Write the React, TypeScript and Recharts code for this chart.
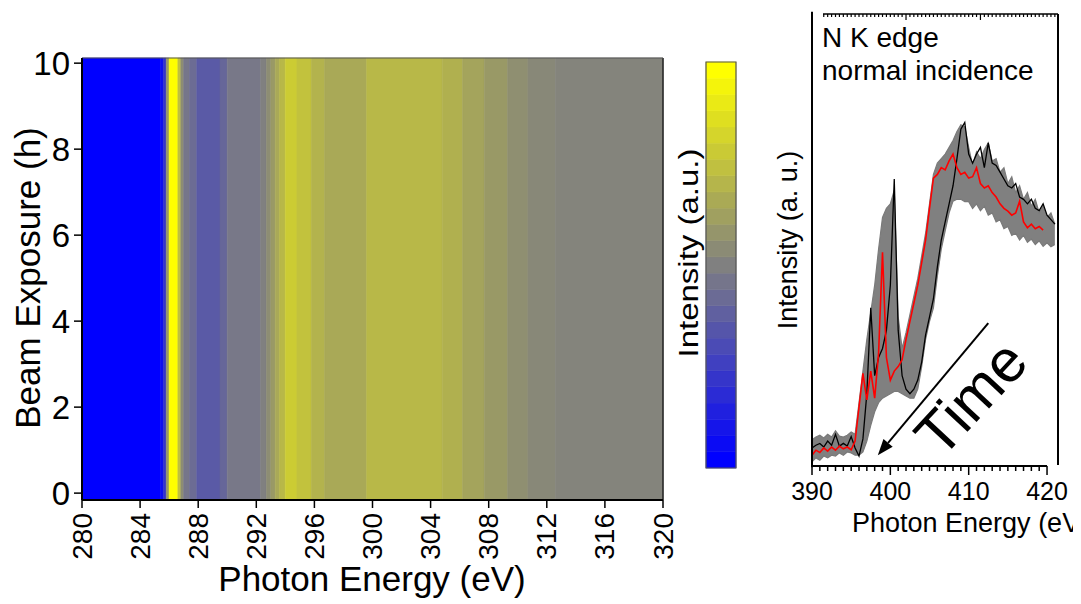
import React from 'react';
import { ComposedChart, XAxis, YAxis, ReferenceArea, ReferenceLine, Area, Line } from 'recharts';

const FONT = '"Liberation Sans", Arial, Helvetica, sans-serif';

// ---- heat map (C K edge), intensity is nearly constant along exposure time ----
const heatEdges = [
  280, 285.4, 285.6, 285.8, 286.0, 286.6, 286.8, 287.0, 287.4, 287.9,
  289.5, 290.0, 292.3, 292.7, 293.0, 293.3, 293.6, 294.0, 294.8, 295.8,
  296.7, 299.6, 304.8, 306.2, 307.7, 309.3, 310.7, 312.6, 320,
];
const heatLevels = [
  0, 0.05, 0.2, 0.6, 1.0, 0.75, 0.55, 0.46, 0.42, 0.35,
  0.4, 0.47, 0.5, 0.55, 0.6, 0.66, 0.72, 0.8, 0.76, 0.7,
  0.66, 0.72, 0.69, 0.64, 0.6, 0.56, 0.53, 0.515,
];
const heatXTicks = [280, 284, 288, 292, 296, 300, 304, 308, 312, 316, 320];
const heatYTicks = [0, 2, 4, 6, 8, 10];

// colour bar steps, bottom to top
const cbLevels = [
  0, 0.042, 0.083, 0.125, 0.167, 0.208, 0.25, 0.292, 0.333, 0.375, 0.417, 0.458, 0.5,
  0.542, 0.583, 0.625, 0.667, 0.708, 0.75, 0.792, 0.833, 0.875, 0.917, 0.958, 1,
];

// ---- N K edge spectra ----
const energies = [
  390, 390.5, 391, 391.5, 392, 392.5, 393, 393.5, 394, 394.5,
  395, 395.5, 396, 396.5, 397, 397.5, 398, 398.5, 399, 399.5,
  400, 400.5, 401, 401.5, 402, 402.5, 403, 403.5, 404, 404.5,
  405, 405.5, 406, 406.5, 407, 407.5, 408, 408.5, 409, 409.5,
  410, 410.5, 411, 411.5, 412, 412.5, 413, 413.5, 414, 414.5,
  415, 415.5, 416, 416.5, 417, 417.5, 418, 418.5, 419, 419.5,
  420, 420.5, 421,
];
const firstScan = [
  4.0, 4.6, 5.0, 4.2, 5.5, 4.6, 7.0, 4.4, 5.0, 4.4,
  6.5, 4.0, 2.2, 6.0, 16, 35, 20, 24, 26, 30,
  40, 63.5, 30, 20, 17, 16, 17, 19, 23, 29,
  33, 37, 44, 50, 54, 58, 62, 68, 74.5, 76,
  69, 67, 69, 70.5, 66, 71.5, 67, 66.5, 65, 63.5,
  62, 61.5, 62.5, 59.5, 59, 58, 59, 57, 56.5, 58,
  55.5, 54.5, 53.5,
];
const lastScan = [
  2.4, 3.5, 3.0, 4.0, 3.3, 4.2, 3.5, 4.4, 3.8, 4.2,
  3.6, 5.5, 13, 20.5, 14.6, 21, 15, 25, 47.3, 24,
  19, 21, 22, 23.5, 28, 32, 36, 40, 45, 50,
  57, 63.7, 64.5, 66, 65.5, 67.5, 69, 66, 64.5, 65,
  63.7, 64, 66, 62.5, 61.5, 62, 60.5, 59.5, 58, 57,
  56.4, 55.5, 56, 58.6, 54, 52.7, 53.5, 52.5, 53, 52.2,
  null, null, null,
];
const bandLow = [
  0.9, 1.8, 1.3, 2.2, 1.8, 2.4, 2.2, 2.9, 2.4, 3.1,
  2.9, 2.4, 2.4, 3.1, 5.5, 9, 12, 14, 15, 15.5,
  16, 16.5, 16.5, 16, 15.5, 15, 15, 17, 22, 28,
  32, 35, 42, 48, 52, 56, 58.6, 59, 59, 58.5,
  58.5, 57, 58, 56.5, 57.5, 55.5, 56, 54, 54.5, 52.5,
  53, 51, 51.5, 50, 51, 49.5, 50.2, 49, 49.8, 48.6,
  49.4, 48.5, 49,
];
const bandHigh = [
  5.8, 6.4, 6.8, 6.2, 7.0, 6.4, 7.8, 6.6, 6.4, 6.8,
  7.5, 7.0, 14, 21, 28, 34, 40, 48, 55, 57,
  58, 61, 33, 26, 29.5, 33.5, 37.5, 41.5, 46.5, 51.5,
  58, 64.5, 67, 68, 69, 70.5, 72, 74, 75.5, 75,
  70.5, 66.5, 69.5, 68, 70, 71.5, 67.5, 68, 65, 66,
  62.5, 64, 60.5, 62, 59, 60.5, 57.5, 59, 56, 57.5,
  55, 56, 53.5,
];
const specTicks = [
  390, 391, 392, 393, 394, 395, 396, 397, 398, 399, 400,
  401, 402, 403, 404, 405, 406, 407, 408, 409, 410,
  411, 412, 413, 414, 415, 416, 417, 418, 419, 420,
];
const specLabels = [390, 400, 410, 420];
const topTicks = Array.from({ length: 60 }, (_, i) => 391.5 + i * 0.5);
const topMajor = [402, 411.5];

// blue -> grey -> yellow
function colorOf(v: number) {
  let r: number, b: number;
  if (v <= 0.5) {
    const t = v / 0.5;
    r = 128 * t;
    b = 255 - 127 * t;
  } else {
    const t = (v - 0.5) / 0.5;
    r = 128 + 127 * t;
    b = 128 * (1 - t);
  }
  return `rgb(${Math.round(r)},${Math.round(r)},${Math.round(b)})`;
}

const heatSegments = heatLevels.map((lv, i) => ({
  x0: heatEdges[i],
  x1: heatEdges[i + 1],
  color: colorOf(lv),
}));

const cbRows = cbLevels.map((v, i) => ({ x: 0.5, y: i, color: colorOf(v) }));

const specRows = energies.map((e, i) => ({
  e,
  first: firstScan[i],
  last: lastScan[i],
  band: [bandLow[i], bandHigh[i]],
}));

function HeatXTick({ x, y, payload }: any) {
  const ty = y + 13;
  return (
    <g>
      <line x1={x} y1={y} x2={x} y2={y + 8} stroke="#000" strokeWidth={1.5} />
      <text
        x={x}
        y={ty}
        transform={`rotate(-90, ${x}, ${ty})`}
        textAnchor="end"
        dominantBaseline="central"
        fontSize={28}
        fontFamily={FONT}
        fill="#000"
      >
        {payload.value}
      </text>
    </g>
  );
}

function SpecBottomTick({ x, y, payload }: any) {
  const major = specLabels.includes(payload.value);
  return (
    <g>
      <line x1={x} y1={y} x2={x} y2={y + (major ? 9 : 5)} stroke="#000" strokeWidth={1.5} />
      {major && (
        <text x={x} y={y + 34} textAnchor="middle" fontSize={25} fontFamily={FONT} fill="#000">
          {payload.value}
        </text>
      )}
    </g>
  );
}

function SpecTopTick({ x, y, payload }: any) {
  const major = topMajor.includes(payload.value);
  return <line x1={x} y1={y} x2={x} y2={y + (major ? 6 : 3)} stroke="#000" strokeWidth={1.2} />;
}

function ArrowShape(p: any) {
  const { x1, y1, x2, y2 } = p;
  const a = Math.atan2(y2 - y1, x2 - x1);
  const len = 16;
  const w = 6;
  const bx = x2 - len * Math.cos(a);
  const by = y2 - len * Math.sin(a);
  const pts = [
    `${x2},${y2}`,
    `${bx + w * Math.sin(a)},${by - w * Math.cos(a)}`,
    `${bx - w * Math.sin(a)},${by + w * Math.cos(a)}`,
  ].join(' ');
  return (
    <g>
      <line x1={x1} y1={y1} x2={bx} y2={by} stroke="#000" strokeWidth={2} />
      <polygon points={pts} fill="#000" />
    </g>
  );
}

export default function App() {
  return (
    <div style={{ position: 'relative', width: 1073, height: 596, overflow: 'hidden', background: '#fff' }}>
      {/* heat map */}
      <div style={{ position: 'absolute', left: 0, top: 0 }}>
        <ComposedChart width={700} height={596} data={heatSegments} margin={{ top: 50, right: 45, bottom: 0, left: 0 }}>
          <XAxis
            type="number"
            dataKey="x0"
            domain={[280, 320]}
            allowDataOverflow
            ticks={heatXTicks}
            interval={0}
            height={104}
            tickSize={0}
            tickMargin={0}
            tickLine={false}
            axisLine={{ stroke: '#000', strokeWidth: 2 }}
            tick={<HeatXTick />}
          />
          <YAxis
            type="number"
            domain={[-0.16, 10.12]}
            allowDataOverflow
            ticks={heatYTicks}
            interval={0}
            width={74}
            tickSize={8}
            tickMargin={4}
            axisLine={{ stroke: '#000', strokeWidth: 2 }}
            tickLine={{ stroke: '#000', strokeWidth: 1.5 }}
            tick={{ fill: '#000', fontSize: 33, fontFamily: FONT }}
          />
          {heatSegments.map((s, i) => (
            <ReferenceArea
              key={i}
              x1={s.x0}
              x2={s.x1}
              fill={s.color}
              fillOpacity={1}
              stroke={s.color}
              strokeWidth={0.6}
            />
          ))}
          <ReferenceLine x={320} stroke="#222" strokeWidth={1.5} />
          <ReferenceLine y={10.12} stroke="#555" strokeWidth={1} />
        </ComposedChart>
      </div>

      {/* colour bar */}
      <div style={{ position: 'absolute', left: 697, top: 53 }}>
        <ComposedChart width={32} height={408} data={cbRows} margin={{ top: 1, right: 1, bottom: 1, left: 1 }}>
          <XAxis type="number" dataKey="x" domain={[0, 1]} height={0} tick={false} tickLine={false} axisLine={false} />
          <YAxis type="number" dataKey="y" domain={[0, cbLevels.length]} width={0} tick={false} tickLine={false} axisLine={false} />
          {cbRows.map((r, i) => (
            <ReferenceArea key={i} x1={0} x2={1} y1={r.y} y2={r.y + 1} fill={r.color} fillOpacity={1} stroke={r.color} strokeWidth={0.6} />
          ))}
          <ReferenceArea x1={0} x2={1} y1={0} y2={cbLevels.length} fill="none" stroke="#555" strokeWidth={1.2} />
        </ComposedChart>
      </div>

      {/* N K edge spectra */}
      <div style={{ position: 'absolute', left: 740, top: 0 }}>
        <ComposedChart width={333} height={596} data={specRows} margin={{ top: 5, right: 23, bottom: 98, left: 64 }}>
          <XAxis
            xAxisId="b"
            type="number"
            dataKey="e"
            domain={[390, 421.4]}
            allowDataOverflow
            ticks={specTicks}
            interval={0}
            height={40}
            tickSize={0}
            tickMargin={0}
            axisLine={false}
            tickLine={false}
            tick={<SpecBottomTick />}
          />
          <XAxis
            xAxisId="t"
            orientation="top"
            type="number"
            dataKey="e"
            domain={[390, 421.4]}
            allowDataOverflow
            ticks={topTicks}
            interval={0}
            height={1}
            tickSize={0}
            tickMargin={0}
            axisLine={false}
            tickLine={false}
            tick={<SpecTopTick />}
          />
          <YAxis hide type="number" domain={[0, 100]} allowDataOverflow />
          <Area
            xAxisId="b"
            dataKey="band"
            type="linear"
            stroke="#7a7a7a"
            strokeWidth={1.2}
            fill="#808080"
            fillOpacity={1}
            dot={false}
            activeDot={false}
            isAnimationActive={false}
          />
          <Line
            xAxisId="b"
            dataKey="first"
            type="linear"
            stroke="#000"
            strokeWidth={1.3}
            dot={false}
            activeDot={false}
            isAnimationActive={false}
          />
          <Line
            xAxisId="b"
            dataKey="last"
            type="linear"
            stroke="#ff0000"
            strokeWidth={1.6}
            dot={false}
            activeDot={false}
            isAnimationActive={false}
          />
          <ReferenceLine xAxisId="b" segment={[{ x: 390, y: -0.3 }, { x: 390, y: 100.5 }]} stroke="#000" strokeWidth={2} ifOverflow="visible" />
          <ReferenceLine xAxisId="b" segment={[{ x: 391.4, y: 100 }, { x: 421.4, y: 100 }]} stroke="#000" strokeWidth={1.5} ifOverflow="visible" />
          <ReferenceLine xAxisId="b" segment={[{ x: 421.4, y: 0.2 }, { x: 421.4, y: 100 }]} stroke="#000" strokeWidth={2} ifOverflow="visible" />
          <ReferenceLine xAxisId="b" segment={[{ x: 390, y: 0 }, { x: 420, y: 0 }]} stroke="#000" strokeWidth={2} ifOverflow="visible" />
          <ReferenceLine
            xAxisId="b"
            segment={[{ x: 412.5, y: 31.6 }, { x: 398.4, y: 2.4 }]}
            ifOverflow="visible"
            shape={ArrowShape}
          />
        </ComposedChart>
      </div>

      {/* text */}
      <svg width={1073} height={596} style={{ position: 'absolute', left: 0, top: 0, pointerEvents: 'none' }} fontFamily={FONT} fill="#000">
        <text x={364} y={583} textAnchor="middle" fontSize={35}>Photon Energy (eV)</text>
        <text x={32} y={270} transform="rotate(-90, 32, 270)" textAnchor="middle" fontSize={35}>Beam Exposure (h)</text>
        <text transform="translate(690, 245) rotate(-90) scale(1, 0.85)" textAnchor="middle" fontSize={33}>Intensity (a.u.)</text>
        <text x={789} y={232} transform="rotate(-90, 789, 232)" textAnchor="middle" fontSize={27}>Intensity (a. u.)</text>
        <text x={814} y={39} fontSize={28}>N K edge</text>
        <text x={814} y={72} fontSize={28}>normal incidence</text>
        <text x={844} y={524} fontSize={27}>Photon Energy (eV)</text>
        <text x={963} y={390} transform="rotate(-47, 963, 390)" textAnchor="middle" dominantBaseline="central" fontSize={60}>Time</text>
      </svg>
    </div>
  );
}
